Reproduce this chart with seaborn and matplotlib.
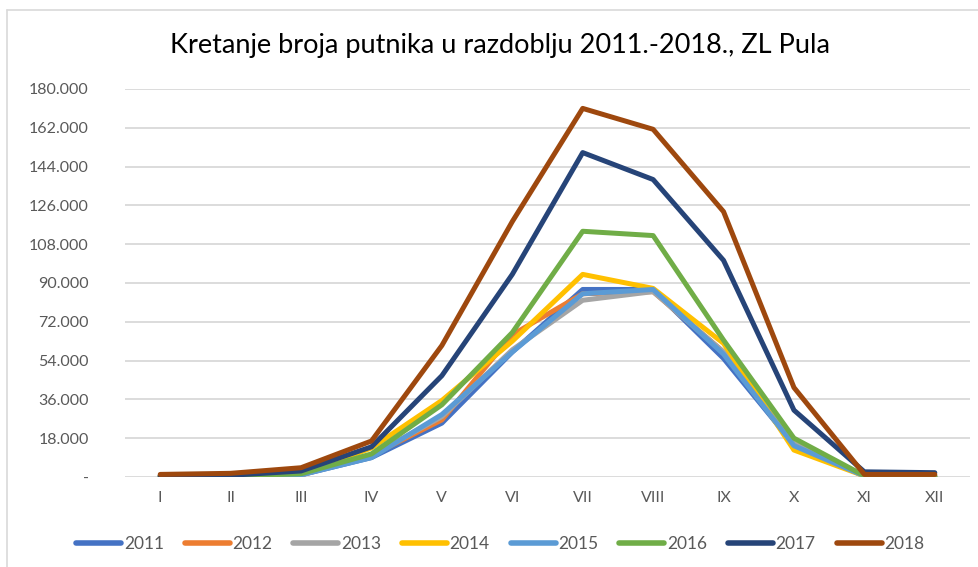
import pandas as pd
import numpy as np
import matplotlib
matplotlib.use('Agg')
import matplotlib.pyplot as plt
import seaborn as sns
from matplotlib.ticker import FuncFormatter


# Monthly passengers per year
months = ['I', 'II', 'III', 'IV', 'V', 'VI', 'VII', 'VIII', 'IX', 'X', 'XI', 'XII']
years = ['2011', '2012', '2013', '2014', '2015', '2016', '2017', '2018']

y2011 = [300, 400, 1000, 9000, 25000, 58000, 87000, 87000, 55000, 15000, 500, 300]
y2012 = [300, 400, 1000, 10000, 26500, 66000, 85000, 86000, 58000, 15000, 500, 300]
y2013 = [300, 400, 1000, 10000, 28000, 59000, 82000, 86000, 58000, 15500, 500, 300]
y2014 = [400, 500, 1200, 13500, 35500, 63000, 94000, 87500, 62000, 12500, 500, 300]
y2015 = [300, 400, 1000, 9000, 29000, 58000, 85000, 87000, 57000, 14500, 500, 300]
y2016 = [400, 500, 1500, 10700, 33500, 67000, 114000, 112000, 63500, 18000, 600, 400]
y2017 = [600, 800, 2800, 14000, 47000, 94000, 150500, 138000, 100500, 31000, 2400, 2000]
y2018 = [1200, 1700, 4300, 16700, 61000, 118500, 171000, 161300, 123100, 41500, 1200, 1200]

series = [y2011, y2012, y2013, y2014, y2015, y2016, y2017, y2018]
colors = ['#4472C4', '#ED7D31', '#A5A5A5', '#FFC000', '#5B9BD5', '#70AD47', '#264478', '#9E480E']

df = pd.DataFrame({
    'month': months * len(years),
    'year': np.repeat(years, len(months)),
    'putnici': np.concatenate(series),
})

sns.set_style('white')
plt.rcParams['font.family'] = ['Lato', 'DejaVu Sans']

fig = plt.figure(figsize=(9.79, 5.67), dpi=100)
ax = fig.add_axes([125 / 979, 90 / 567, 845 / 979, 388 / 567])

sns.lineplot(data=df, x='month', y='putnici', hue='year', palette=colors,
             linewidth=3.6, ax=ax, sort=False, legend=True)

ax.set_ylim(0, 180000)
ax.set_yticks(np.arange(0, 180001, 18000))
ax.yaxis.set_major_formatter(FuncFormatter(
    lambda v, p: '-' if v == 0 else f'{int(v):,}'.replace(',', '.')))
ax.set_xlim(-0.5, len(months) - 0.5)
ax.grid(axis='y', color='#D9D9D9', linewidth=1.3)
ax.set_axisbelow(True)
for s in ax.spines.values():
    s.set_visible(False)
ax.tick_params(axis='both', length=0, labelsize=11.5, labelcolor='#595959')
ax.tick_params(axis='y', pad=26)
ax.tick_params(axis='x', pad=10)
ax.set_xlabel('')
ax.set_ylabel('')

ax.set_title('Kretanje broja putnika u razdoblju 2011.-2018., ZL Pula',
             fontsize=19.5, color='#000000', pad=26, x=0.444)

handles, labels = ax.get_legend_handles_labels()
for h in handles:
    h.set_solid_capstyle('round')
    h.set_linewidth(4)
ax.legend(handles, labels, loc='center', bbox_to_anchor=(0.444, -0.172), ncol=8,
          frameon=False, fontsize=12.5, handlelength=2.6, handletextpad=0.15,
          columnspacing=1.2, labelcolor='#595959')

# chart border like the spreadsheet frame
fig.add_artist(plt.Line2D([7 / 979, 7 / 979], [0, 1 - 10 / 567], color='#D9D9D9', lw=1.2))
fig.add_artist(plt.Line2D([7 / 979, 1], [1 - 10 / 567, 1 - 10 / 567], color='#D9D9D9', lw=1.2))

fig.savefig('out.png', dpi=100)
